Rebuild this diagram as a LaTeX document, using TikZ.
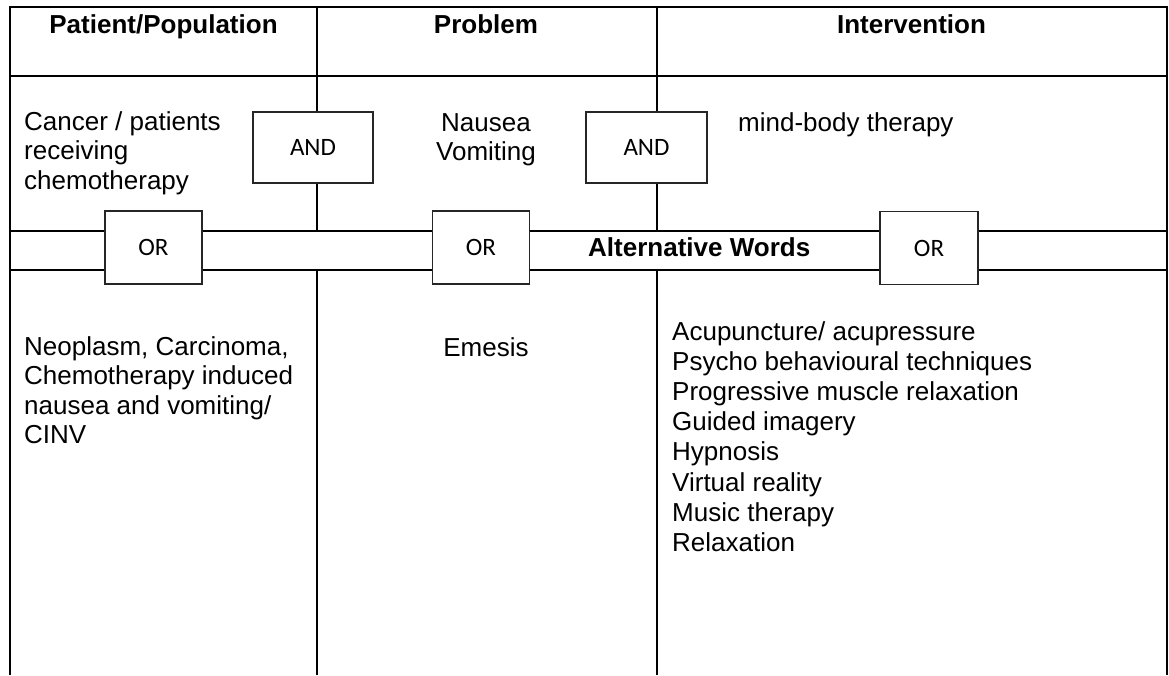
\documentclass[tikz,border=0pt]{standalone}
\usepackage{fontspec}
\setmainfont{Liberation Sans}
\newfontfamily\boxfont{Carlito}
\begin{document}
\begin{tikzpicture}[x=1pt,y=-1pt,
  rule/.style={line width=2pt},
  opbox/.style={draw=black!85, line width=1.3pt, fill=white, inner sep=0pt,
    font=\boxfont\fontsize{25}{30}\selectfont},
  andbox/.style={opbox, minimum width=120pt, minimum height=71pt},
  orbox/.style={opbox, minimum width=97pt, minimum height=73pt},
  hdr/.style={inner sep=0pt, anchor=base, font=\bfseries\fontsize{26}{30}\selectfont},
  txt/.style={inner sep=0pt, font=\fontsize{26}{29.5}\selectfont}]
\useasboundingbox (0,0) rectangle (1169,675);
% table frame: open at the bottom
\draw[rule, line join=miter] (10,675) -- (10,7) -- (1167,7) -- (1167,675);
\draw[rule] (10,76) -- (1167,76);
\draw[rule] (10,231) -- (1167,231);
\draw[rule] (10,270) -- (1167,270);
% column separators, interrupted by the band of alternative words
\draw[rule] (317,7) -- (317,231) (317,270) -- (317,675);
\draw[rule] (657,7) -- (657,231) (657,270) -- (657,675);
% column headings
\node[hdr] (hpop) at (163.5,33) {Patient/Population};
\node[hdr] (hprob) at (486,33) {Problem};
\node[hdr] (hint) at (911.5,33) {Intervention};
% main search terms
\node[txt, anchor=base west] (pop) at (24,130)
  {\begin{tabular}[t]{@{}l@{}}Cancer / patients\\receiving\\chemotherapy\end{tabular}};
\node[txt, anchor=base] (prob) at (486,131)
  {\begin{tabular}[t]{@{}c@{}}Nausea\\Vomiting\end{tabular}};
\node[txt, anchor=base west] (int) at (738,131) {mind-body therapy};
% boolean operators
\node[andbox] (and1) at (313,147.5) {AND};
\node[andbox, minimum width=121pt] (and2) at (646.5,147.5) {AND};
\node[orbox] (or1) at (153.5,247.5) {OR};
\node[orbox] (or2) at (481,247.5) {OR};
\node[orbox, minimum width=98pt] (or3) at (929,248) {OR};
\node[hdr, anchor=base west] (alt) at (588,256) {Alternative Words};
% alternative terms
\node[txt, anchor=base west] (altpop) at (24,355)
  {\begin{tabular}[t]{@{}l@{}}Neoplasm, Carcinoma,\\Chemotherapy induced\\nausea and vomiting/\\CINV\end{tabular}};
\node[txt, anchor=base] (altprob) at (486,356) {Emesis};
\node[txt, anchor=base west, font=\fontsize{26}{30.2}\selectfont] (altint) at (672,340)
  {\begin{tabular}[t]{@{}l@{}}Acupuncture/ acupressure\\Psycho behavioural techniques\\
   Progressive muscle relaxation\\Guided imagery\\Hypnosis\\Virtual reality\\
   Music therapy\\Relaxation\end{tabular}};
\end{tikzpicture}
\end{document}
